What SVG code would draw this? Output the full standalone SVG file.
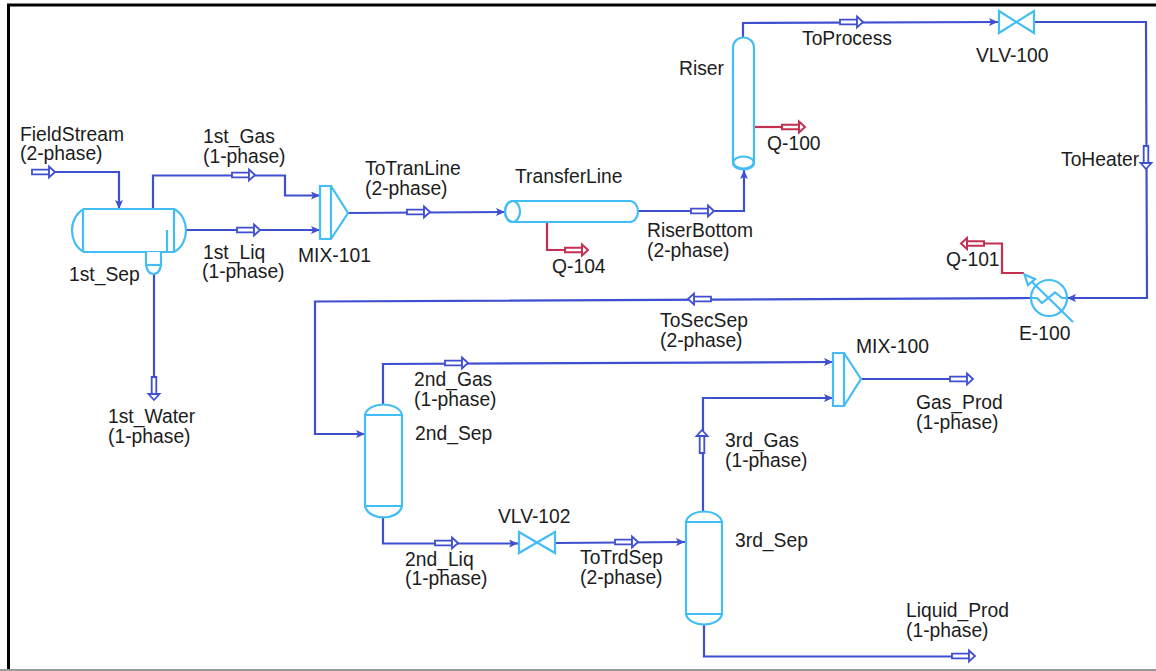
<svg xmlns="http://www.w3.org/2000/svg" width="1156" height="671" viewBox="0 0 1156 671">
<style>
.l{font-family:"Liberation Sans",Arial,sans-serif;font-size:19.3px;fill:#1c1c1c}
.c{fill:none;stroke:#3f4fd2;stroke-width:2.200}
.q{fill:none;stroke:#c4304f;stroke-width:2.200}
.e{fill:#fff;stroke:#42bdf6;stroke-width:2.200}
.n{fill:none;stroke:#42bdf6;stroke-width:2.200}
.sb{fill:#fff;stroke:#3f4fd2;stroke-width:1.800}
.sr{fill:#fff;stroke:#c4304f;stroke-width:2}
</style>
<defs>
<marker id="a" markerWidth="12" markerHeight="10" refX="9" refY="4" orient="auto" markerUnits="userSpaceOnUse"><path d="M0 0L9 4L0 8L2 4Z" fill="#3f4fd2"/></marker>
<g id="sb"><path class="sb" d="M0-2.300H17V2.300H0Z"/><path class="sb" d="M17-5.500L23 0L17 5.500Z"/></g>
<g id="sr"><path class="sr" d="M0-2.300H17V2.300H0Z"/><path class="sr" d="M17-5.500L23 0L17 5.500Z"/></g>
</defs>
<rect width="1156" height="671" fill="#fff"/>
<path d="M8.500 671V5H1156" fill="none" stroke="#000" stroke-width="3"/>
<path d="M0 670H1156" stroke="#999" stroke-width="2"/>
<g id="connectors">
<path class="c" marker-end="url(#a)" d="M33 172H119V209"/>
<path class="c" marker-end="url(#a)" d="M153 209V175.500H285V195.500H320"/>
<path class="c" marker-end="url(#a)" d="M185 230H320"/>
<path class="c" d="M154 273V380"/>
<path class="c" marker-end="url(#a)" d="M348 213L505 212"/>
<path class="c" marker-end="url(#a)" d="M638 211H744V170"/>
<path class="q" d="M547 222V250H566"/>
<path class="q" d="M754 127H783"/>
<path class="c" marker-end="url(#a)" d="M743 37V23L998 22"/>
<path class="c" marker-end="url(#a)" d="M1034 22H1146L1147 298H1067"/>
<path class="q" d="M1024 273H1002V243.500H985"/>
<path class="c" marker-end="url(#a)" d="M1031 298L315 301.500V434H365"/>
<path class="c" marker-end="url(#a)" d="M383 404V364L833 362"/>
<path class="c" marker-end="url(#a)" d="M383 517V543.500H518"/>
<path class="c" marker-end="url(#a)" d="M555 543L685 542"/>
<path class="c" marker-end="url(#a)" d="M703 512V398H833"/>
<path class="c" d="M861 379H950"/>
<path class="c" d="M704 624V656.500H953"/>
<use href="#sb" transform="translate(32 172)"/>
<use href="#sb" transform="translate(232 175)"/>
<use href="#sb" transform="translate(237 230)"/>
<use href="#sb" transform="translate(154 377) rotate(90)"/>
<use href="#sb" transform="translate(407 212)"/>
<use href="#sb" transform="translate(691 211)"/>
<use href="#sb" transform="translate(840 22)"/>
<use href="#sb" transform="translate(1146 146) rotate(90)"/>
<use href="#sb" transform="translate(711 299) rotate(180)"/>
<use href="#sb" transform="translate(445 363)"/>
<use href="#sb" transform="translate(435 543)"/>
<use href="#sb" transform="translate(615 542)"/>
<use href="#sb" transform="translate(702 453) rotate(-90)"/>
<use href="#sb" transform="translate(950 379)"/>
<use href="#sb" transform="translate(952 656)"/>
<use href="#sr" transform="translate(565 250)"/>
<use href="#sr" transform="translate(782 127)"/>
<use href="#sr" transform="translate(984 243.500) rotate(180)"/>
</g>
<g id="n-1st_Sep">
<path class="e" d="M84 209H174C190 217 190 244 174 252H84C68 244 68 217 84 209Z"/>
<path class="n" d="M83 209V252M174 209V252M167 230V252"/>
<path class="e" d="M146 252V265C148 277 159 277 161 265V252"/>
<path class="n" d="M146 265H161"/>
</g>
<g id="n-MIX-101"><path class="e" d="M320 186H331L348 213L331 239H320Z"/><path class="n" d="M331 186V239"/></g>
<g id="n-TransferLine">
<rect class="e" x="505" y="201" width="133" height="21" rx="8" ry="10.500"/>
<ellipse class="n" cx="512.500" cy="211.500" rx="7.500" ry="10.500"/>
</g>
<g id="n-Riser">
<path class="e" d="M733 48C733 34 754 34 754 48V161C754 171 733 171 733 161Z"/>
<ellipse class="n" cx="743.500" cy="163" rx="10.500" ry="6.500"/>
</g>
<g id="n-VLV-100"><path class="e" d="M999 11L1034 33V11L999 33Z"/></g>
<g id="n-E-100">
<circle class="n" cx="1049" cy="298" r="18"/>
<path class="n" d="M1031 298H1037L1042 303L1055 292.500L1062 298H1067"/>
<path class="n" d="M1073 322L1026 276"/>
<path class="e" d="M1024.500 274.500L1035 279L1028 285Z"/>
</g>
<g id="n-2nd_Sep">
<path class="e" d="M365 415C368 401 399 401 402 415V506C399 521 368 521 365 506Z"/>
<path class="n" d="M365 415H402M365 506H402"/>
</g>
<g id="n-3rd_Sep">
<path class="e" d="M686 522C689 508 719 508 722 522V614C719 628 689 628 686 614Z"/>
<path class="n" d="M686 522H722M686 614H722"/>
</g>
<g id="n-VLV-102"><path class="e" d="M519 532L555 553V532L519 553Z"/></g>
<g id="n-MIX-100"><path class="e" d="M833 353H844L861 379L844 406H833Z"/><path class="n" d="M844 353V406"/></g>
<g id="labels">
<text class="l" x="20" y="141">FieldStream</text><text class="l" x="20" y="160">(2-phase)</text>
<text class="l" x="203" y="143">1st_Gas</text><text class="l" x="203" y="163">(1-phase)</text>
<text class="l" x="365" y="175">ToTranLine</text><text class="l" x="365" y="195">(2-phase)</text>
<text class="l" x="515" y="183">TransferLine</text>
<text class="l" x="647" y="237">RiserBottom</text><text class="l" x="647" y="257">(2-phase)</text>
<text class="l" x="552" y="273">Q-104</text>
<text class="l" x="679" y="75">Riser</text>
<text class="l" x="802" y="45">ToProcess</text>
<text class="l" x="976" y="62">VLV-100</text>
<text class="l" x="767" y="150">Q-100</text>
<text class="l" x="1061" y="166">ToHeater</text>
<text class="l" x="946" y="266">Q-101</text>
<text class="l" x="1019" y="340">E-100</text>
<text class="l" x="660" y="327">ToSecSep</text><text class="l" x="660" y="347">(2-phase)</text>
<text class="l" x="414" y="386">2nd_Gas</text><text class="l" x="414" y="406">(1-phase)</text>
<text class="l" x="415" y="440">2nd_Sep</text>
<text class="l" x="856" y="353">MIX-100</text>
<text class="l" x="916" y="409">Gas_Prod</text><text class="l" x="916" y="429">(1-phase)</text>
<text class="l" x="725" y="447">3rd_Gas</text><text class="l" x="725" y="467">(1-phase)</text>
<text class="l" x="735" y="547">3rd_Sep</text>
<text class="l" x="498" y="523">VLV-102</text>
<text class="l" x="405" y="566">2nd_Liq</text><text class="l" x="405" y="585">(1-phase)</text>
<text class="l" x="580" y="564">ToTrdSep</text><text class="l" x="580" y="584">(2-phase)</text>
<text class="l" x="906" y="617">Liquid_Prod</text><text class="l" x="906" y="637">(1-phase)</text>
<text class="l" x="69" y="281">1st_Sep</text>
<text class="l" x="203" y="259">1st_Liq</text><text class="l" x="202" y="278">(1-phase)</text>
<text class="l" x="298" y="262">MIX-101</text>
<text class="l" x="108" y="423">1st_Water</text><text class="l" x="108" y="443">(1-phase)</text>
</g>
</svg>
